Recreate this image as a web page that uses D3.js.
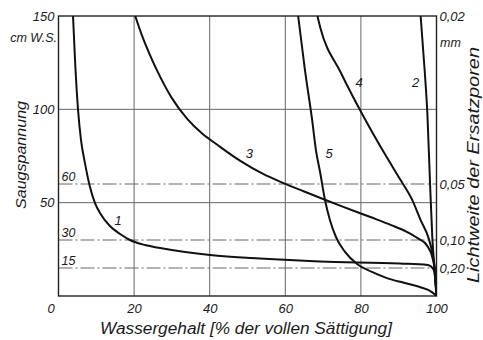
<!DOCTYPE html>
<html>
<head>
<meta charset="utf-8">
<script src="https://cdn.jsdelivr.net/npm/d3@7"></script>
<style>
  html, body { margin: 0; padding: 0; background: #fff; }
  svg { display: block; }
  text { font-family: "Liberation Sans", Arial, sans-serif; font-style: italic; fill: #1a1a1a; }
</style>
</head>
<body>
<script>
// Saugspannung (cm W.S.) over Wassergehalt (% der vollen Sättigung), five soils
const curve1 = [[3.84,150],[4.37,126.4],[5.16,100],[5.95,83.6],[7.0,71.2],[8.33,58.4],[9.66,49.8],[10.98,44.5],[13.6,37.5],[16.3,33.2],[18.9,30],[22.9,27.3],[26.9,25.7],[33.5,23.6],[40.1,22.0],[53.3,20.1],[69.2,18.5],[90.3,17.4],[97.7,16.6],[99.3,13.9],[100,0]];
const curve2 = [[95.8,150],[96.9,120],[97.6,97],[98.3,60],[98.9,31],[99.5,14],[100,0]];
const curve3 = [[20.3,150],[22,140],[24,130],[27,117],[30,106],[34,95],[38,87],[42,81],[48,72.5],[54,65.5],[59.5,60.5],[65,56],[69.3,52.5],[75,48],[82.5,42.3],[88,38],[92,34.5],[95,31],[97.5,27],[99,20],[99.7,10],[100,0]];
const curve4 = [[68.5,150],[69.3,143.5],[74.6,120],[81.2,94.3],[86.5,75.5],[90.5,62.1],[93.6,51.4],[95.8,40.7],[97.9,31],[98.9,23],[99.7,11],[100,0]];
const curve5 = [[63.4,150],[65.2,121],[67.1,94.3],[68.1,78.2],[69.2,66.4],[70.5,51.4],[71.8,40.7],[73.4,31.6],[75.8,23.6],[79,17.1],[82.9,12.9],[86.9,9.6],[91.6,7],[95.6,4.8],[98.8,2.1],[100,0]];
const curveNames = ["1","2","3","4","5"];
const curveLabelAt = [[15.8,38],[94.5,112],[50.5,74],[79.5,112],[71.6,74]];

const xTicks = [0,20,40,60,80,100];
const xGrid = [20,40,60,80];
const yTicks = [50,100,150];
const yGrid = [50,100];
const poreWidths = [0.02,0.05,0.10,0.20];   // mm, Lichtweite der Ersatzporen
const poreConst = 3;                        // Saugspannung (cm) × Lichtweite (mm)

const W = 483, H = 340;
const x = d3.scaleLinear().domain([0,100]).range([58.5,436.5]);
const y = d3.scaleLinear().domain([0,150]).range([296,16]);

const svg = d3.select("body").append("svg").attr("width",W).attr("height",H);

svg.append("clipPath").attr("id","plot")
  .append("rect").attr("x",x(0)).attr("y",y(150)).attr("width",x(100)-x(0)).attr("height",y(0)-y(150));

// solid grid
svg.append("g").selectAll("line").data(xGrid).join("line")
  .attr("x1",d=>x(d)).attr("x2",d=>x(d)).attr("y1",y(0)).attr("y2",y(150))
  .attr("stroke","#666").attr("stroke-width",1);
svg.append("g").selectAll("line").data(yGrid).join("line")
  .attr("x1",x(0)).attr("x2",x(100)).attr("y1",d=>y(d)).attr("y2",d=>y(d))
  .attr("stroke","#666").attr("stroke-width",1);

// dash-dot lines at the suction belonging to each pore width
const poreSuction = poreWidths.map(d => poreConst/d);
const dashed = poreSuction.filter(s => s < 150);
svg.append("g").selectAll("line").data(dashed).join("line")
  .attr("x1",x(0)).attr("x2",x(100)).attr("y1",d=>y(d)).attr("y2",d=>y(d))
  .attr("stroke","#666").attr("stroke-width",1).attr("stroke-dasharray","14,3,2,3");
svg.append("g").selectAll("text").data(dashed).join("text")
  .attr("x",x(0)+3).attr("y",d=>y(d)-3)
  .attr("font-size",12.5).text(d=>Math.round(d));

// frame
svg.append("rect").attr("x",x(0)).attr("y",y(150)).attr("width",x(100)-x(0)).attr("height",y(0)-y(150))
  .attr("fill","none").attr("stroke","#222").attr("stroke-width",1.4);

// curves
const line = d3.line().x(d=>x(d[0])).y(d=>y(d[1])).curve(d3.curveMonotoneX);
const curves = [curve1,curve2,curve3,curve4,curve5];
svg.append("g").attr("clip-path","url(#plot)").selectAll("path").data(curves).join("path")
  .attr("d",line).attr("fill","none").attr("stroke","#111").attr("stroke-width",2);

svg.append("g").selectAll("text").data(curveNames).join("text")
  .attr("x",(d,i)=>x(curveLabelAt[i][0])).attr("y",(d,i)=>y(curveLabelAt[i][1]))
  .attr("text-anchor","middle").attr("font-size",13).text(d=>d);

// axes
const xAxis = svg.append("g").attr("transform",`translate(0,${y(0)})`)
  .call(d3.axisBottom(x).tickValues(xTicks).tickSize(0).tickPadding(8).tickFormat(d3.format("d")));
const yAxis = svg.append("g").attr("transform",`translate(${x(0)},0)`)
  .call(d3.axisLeft(y).tickValues(yTicks).tickSize(0).tickPadding(4).tickFormat(d3.format("d")));
const de = d3.formatLocale({decimal:",",thousands:".",grouping:[3],currency:["","€"]});
const yRight = svg.append("g").attr("transform",`translate(${x(100)},0)`)
  .call(d3.axisRight(y).tickValues(poreSuction).tickSize(0).tickPadding(3)
    .tickFormat((s,i)=>de.format(".2f")(poreWidths[i])));
[xAxis,yAxis,yRight].forEach(g=>{
  g.select(".domain").remove();
  g.selectAll("text").attr("font-size",13).attr("font-style","italic")
    .attr("font-family","'Liberation Sans', Arial, sans-serif").attr("fill","#1a1a1a");
});
xAxis.selectAll(".tick").filter(d=>d===0).select("text").attr("dx",-8);

// units
svg.append("text").attr("x",57).attr("y",42).attr("text-anchor","end").attr("font-size",12.5).text("cm W.S.");
svg.append("text").attr("x",440).attr("y",47).attr("font-size",12.5).text("mm");

// axis titles
svg.append("text").attr("x",246).attr("y",334).attr("text-anchor","middle").attr("font-size",16)
  .attr("textLength",292).attr("lengthAdjust","spacingAndGlyphs")
  .text("Wassergehalt [% der vollen Sättigung]");
svg.append("text").attr("transform","translate(26,155) rotate(-90)").attr("text-anchor","middle")
  .attr("font-size",15).attr("textLength",108).attr("lengthAdjust","spacingAndGlyphs").text("Saugspannung");
svg.append("text").attr("transform","translate(479,165) rotate(-90)").attr("text-anchor","middle")
  .attr("font-size",16).attr("textLength",236).attr("lengthAdjust","spacingAndGlyphs").text("Lichtweite der Ersatzporen");
</script>
</body>
</html>
